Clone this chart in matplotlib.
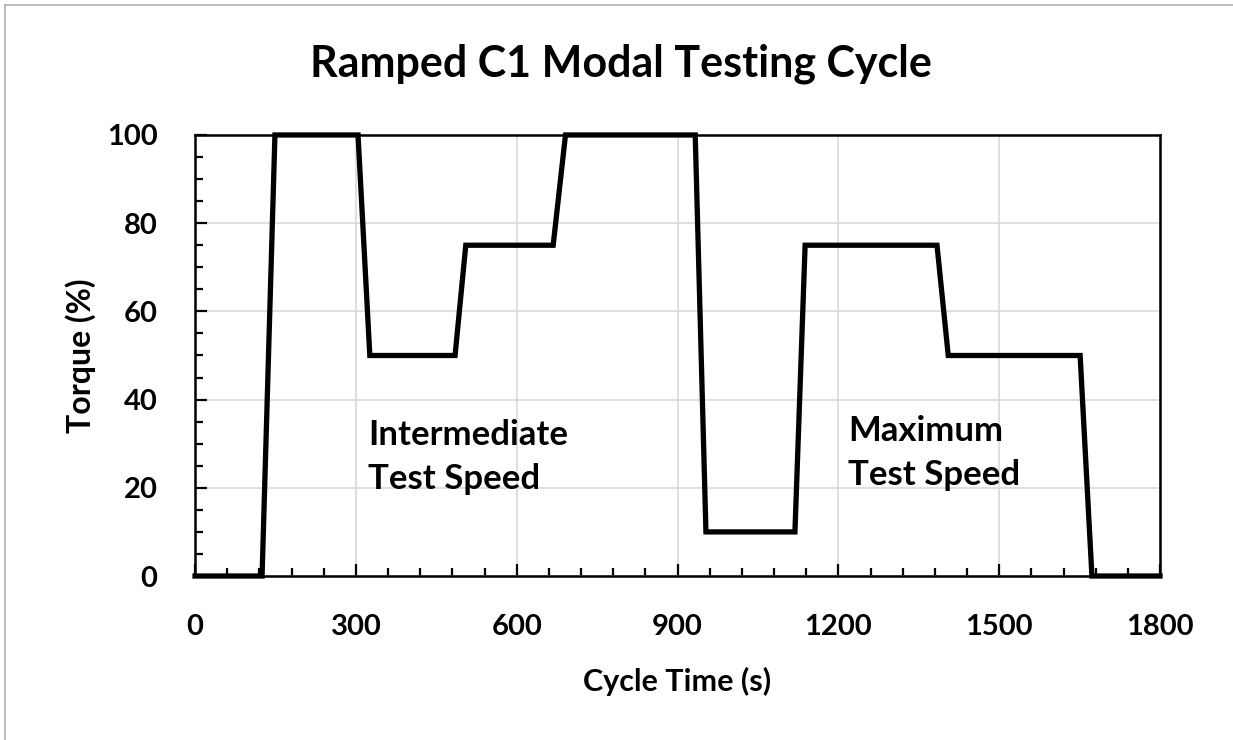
"""
Ramped C1 modal testing cycle - torque vs cycle time
"""

import matplotlib
matplotlib.use("Agg")
import matplotlib.pyplot as plt
from matplotlib.lines import Line2D
from matplotlib.ticker import MultipleLocator

# cycle time (s) and torque (%) breakpoints
cycle_time = [0, 125, 149, 304, 326, 485, 505, 668, 691, 933, 953,
              1119, 1138, 1384, 1405, 1651, 1673, 1800]
torque = [0, 0, 100, 100, 50, 50, 75, 75, 100, 100, 10,
          10, 75, 75, 50, 50, 0, 0]

x_ticks = [0, 300, 600, 900, 1200, 1500, 1800]
y_ticks = [0, 20, 40, 60, 80, 100]

plt.rcParams['font.family'] = ['Lato', 'DejaVu Sans']
plt.rcParams['font.weight'] = 'bold'

fig = plt.figure(figsize=(12.33, 7.4), dpi=100)
ax = fig.add_axes([0.1582, 0.2216, 0.7826, 0.5960])

ax.plot(cycle_time, torque, color='black', linewidth=3.8,
        solid_joinstyle='miter', clip_on=False, zorder=5)

ax.set_xlim(0, 1800)
ax.set_ylim(0, 100)
ax.set_xticks(x_ticks)
ax.set_yticks(y_ticks)
ax.xaxis.set_minor_locator(MultipleLocator(60))
ax.yaxis.set_minor_locator(MultipleLocator(5))

ax.grid(True, which='major', color='#d9d9d9', linewidth=1.2)
ax.set_axisbelow(True)

for s in ax.spines.values():
    s.set_linewidth(1.8)
ax.tick_params(which='major', direction='in', length=8.5, width=1.6,
               labelsize=21, pad=27)
ax.tick_params(which='minor', direction='in', length=5.5, width=1.6)
for lbl in ax.get_xticklabels() + ax.get_yticklabels():
    lbl.set_fontweight('bold')

ax.set_xlabel('Cycle Time (s)', fontsize=22, fontweight='bold', labelpad=20)
ax.set_ylabel('Torque (%)', fontsize=23, fontweight='bold', labelpad=8)

# title sits centred on the whole chart, not on the plot area
fig.text(621 / 1233, 1 - 77 / 740, 'Ramped C1 Modal Testing Cycle',
         fontsize=31, fontweight='bold', ha='center', va='baseline')

ax.text(323, 35.5, 'Intermediate\nTest Speed', fontsize=25, fontweight='bold',
        ha='left', va='top', linespacing=1.45)
ax.text(1218, 36.5, 'Maximum\nTest Speed', fontsize=25, fontweight='bold',
        ha='left', va='top', linespacing=1.45)

# light grey frame around the chart
fig.add_artist(Line2D([5 / 1233, 1], [1 - 5 / 740, 1 - 5 / 740],
                      transform=fig.transFigure, color='#b0b0b0', linewidth=1.2))
fig.add_artist(Line2D([5 / 1233, 5 / 1233], [0, 1 - 5 / 740],
                      transform=fig.transFigure, color='#b0b0b0', linewidth=1.2))

fig.savefig('out.png', dpi=100)
